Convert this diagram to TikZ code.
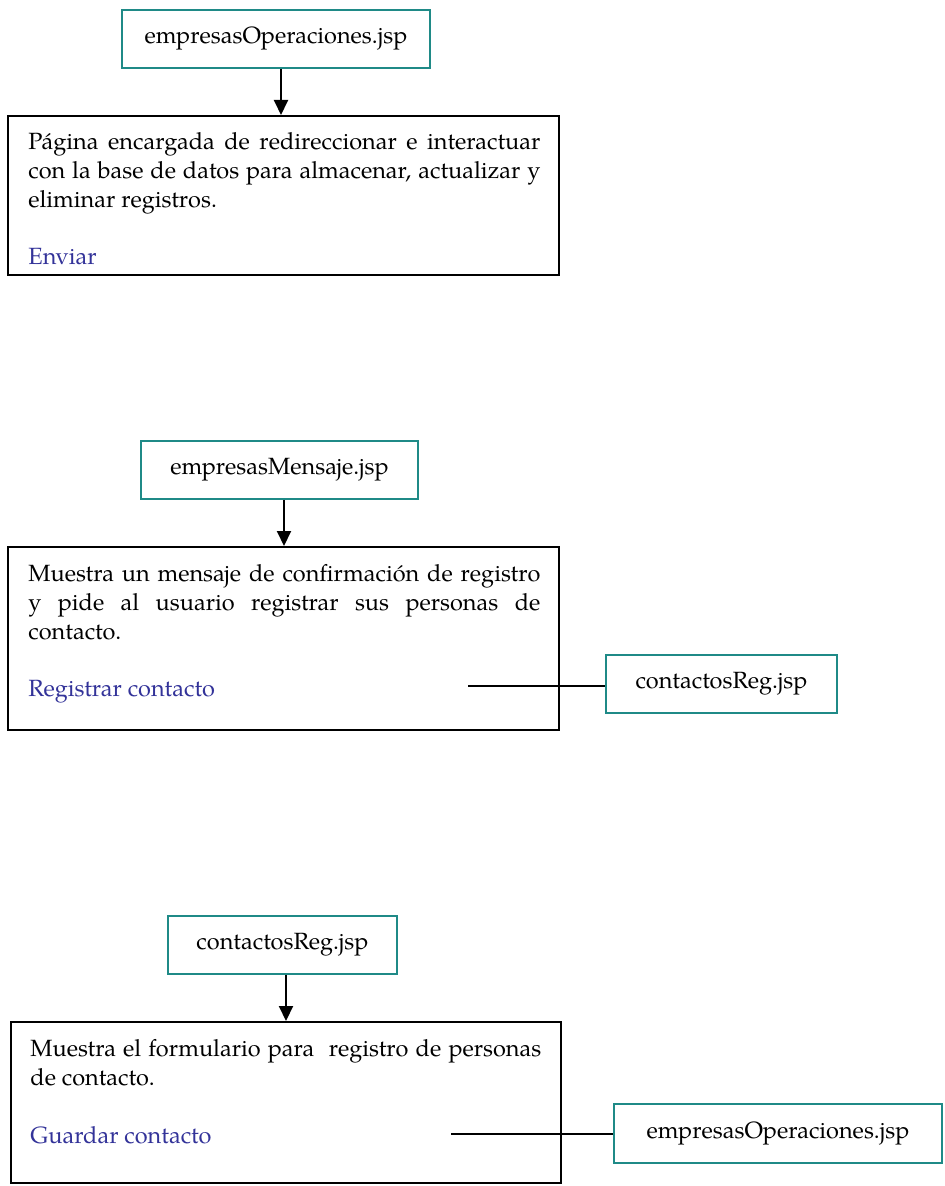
\documentclass[tikz,border=0pt]{standalone}
\usepackage{fontspec}
\setmainfont{texgyrepagella}[Extension=.otf,UprightFont=*-regular,BoldFont=*-bold,ItalicFont=*-italic,BoldItalicFont=*-bolditalic]
\usetikzlibrary{arrows.meta}
\definecolor{tealbox}{RGB}{31,138,135}
\definecolor{linkblue}{RGB}{51,51,153}
\tikzset{
  jspbox/.style={draw=tealbox, line width=0.9pt, minimum height=29pt, inner sep=0pt,
    font=\fontsize{11.75}{14.5}\selectfont},
  descbox/.style={draw=black, line width=1pt, inner sep=0pt},
  desctext/.style={anchor=north west, inner sep=0pt, align=justify,
    font=\fontsize{11.75}{14.5}\selectfont},
  linktext/.style={anchor=base west, inner sep=0pt, text=linkblue,
    font=\fontsize{11.75}{14.5}\selectfont},
  flowarrow/.style={line width=1pt, -{Triangle[length=7.5pt,width=7pt]}},
  flowline/.style={line width=1pt},
}
\begin{document}
\begin{tikzpicture}[x=0.5pt,y=-0.5pt]
\useasboundingbox (0,0) rectangle (944,1186);
\hyphenpenalty=10000
% --- group 1
\node[jspbox, minimum width=154pt] (T1) at (276,39) {empresasOperaciones.jsp};
\node[descbox, minimum width=275.5pt, minimum height=79.5pt] (B1) at (283.5,195.5) {};
\node[desctext, text width=256pt] (D1) at (28,128.7) {\strut P\'agina encargada de redireccionar e interactuar\linebreak con la base de datos para almacenar, actualizar y\linebreak eliminar registros.};
\node[linktext] (L1) at (28,265) {Enviar};
\draw[flowarrow] ([xshift=2.5pt]T1.south) -- ([xshift=2.5pt]T1.south |- B1.north);
% --- group 2
\node[jspbox, minimum width=138.5pt] (T2) at (279.5,470) {empresasMensaje.jsp};
\node[descbox, minimum width=275.5pt, minimum height=91.5pt] (B2) at (283.5,638.5) {};
\node[desctext, text width=256pt] (D2) at (28,560.7) {\strut Muestra un mensaje de confirmaci\'on de registro\linebreak y pide al usuario registrar sus personas de\linebreak contacto.};
\node[linktext] (L2) at (28,696) {Registrar contacto};
\draw[flowarrow] ([xshift=2.25pt]T2.south) -- ([xshift=2.25pt]T2.south |- B2.north);
\node[jspbox, minimum width=115.5pt] (T3) at (721.5,684) {contactosReg.jsp};
\coordinate (C2) at (468,686);
\draw[flowline] (C2) -- (C2 -| T3.west);
% --- group 3
\node[jspbox, minimum width=114.5pt] (T4) at (282.5,945) {contactosReg.jsp};
\node[descbox, minimum width=275pt, minimum height=80.5pt] (B3) at (286,1102.5) {};
\node[desctext, text width=255.5pt] (D3) at (30,1035.7) {\strut Muestra el formulario para\ \ registro de personas\linebreak de contacto.};
\node[linktext] (L3) at (30,1143) {Guardar contacto};
\draw[flowarrow] ([xshift=1.75pt]T4.south) -- ([xshift=1.75pt]T4.south |- B3.north);
\node[jspbox, minimum width=164pt, minimum height=29.5pt] (T5) at (778,1133.5) {empresasOperaciones.jsp};
\coordinate (C3) at (451,1134);
\draw[flowline] (C3) -- (C3 -| T5.west);
\end{tikzpicture}
\end{document}
